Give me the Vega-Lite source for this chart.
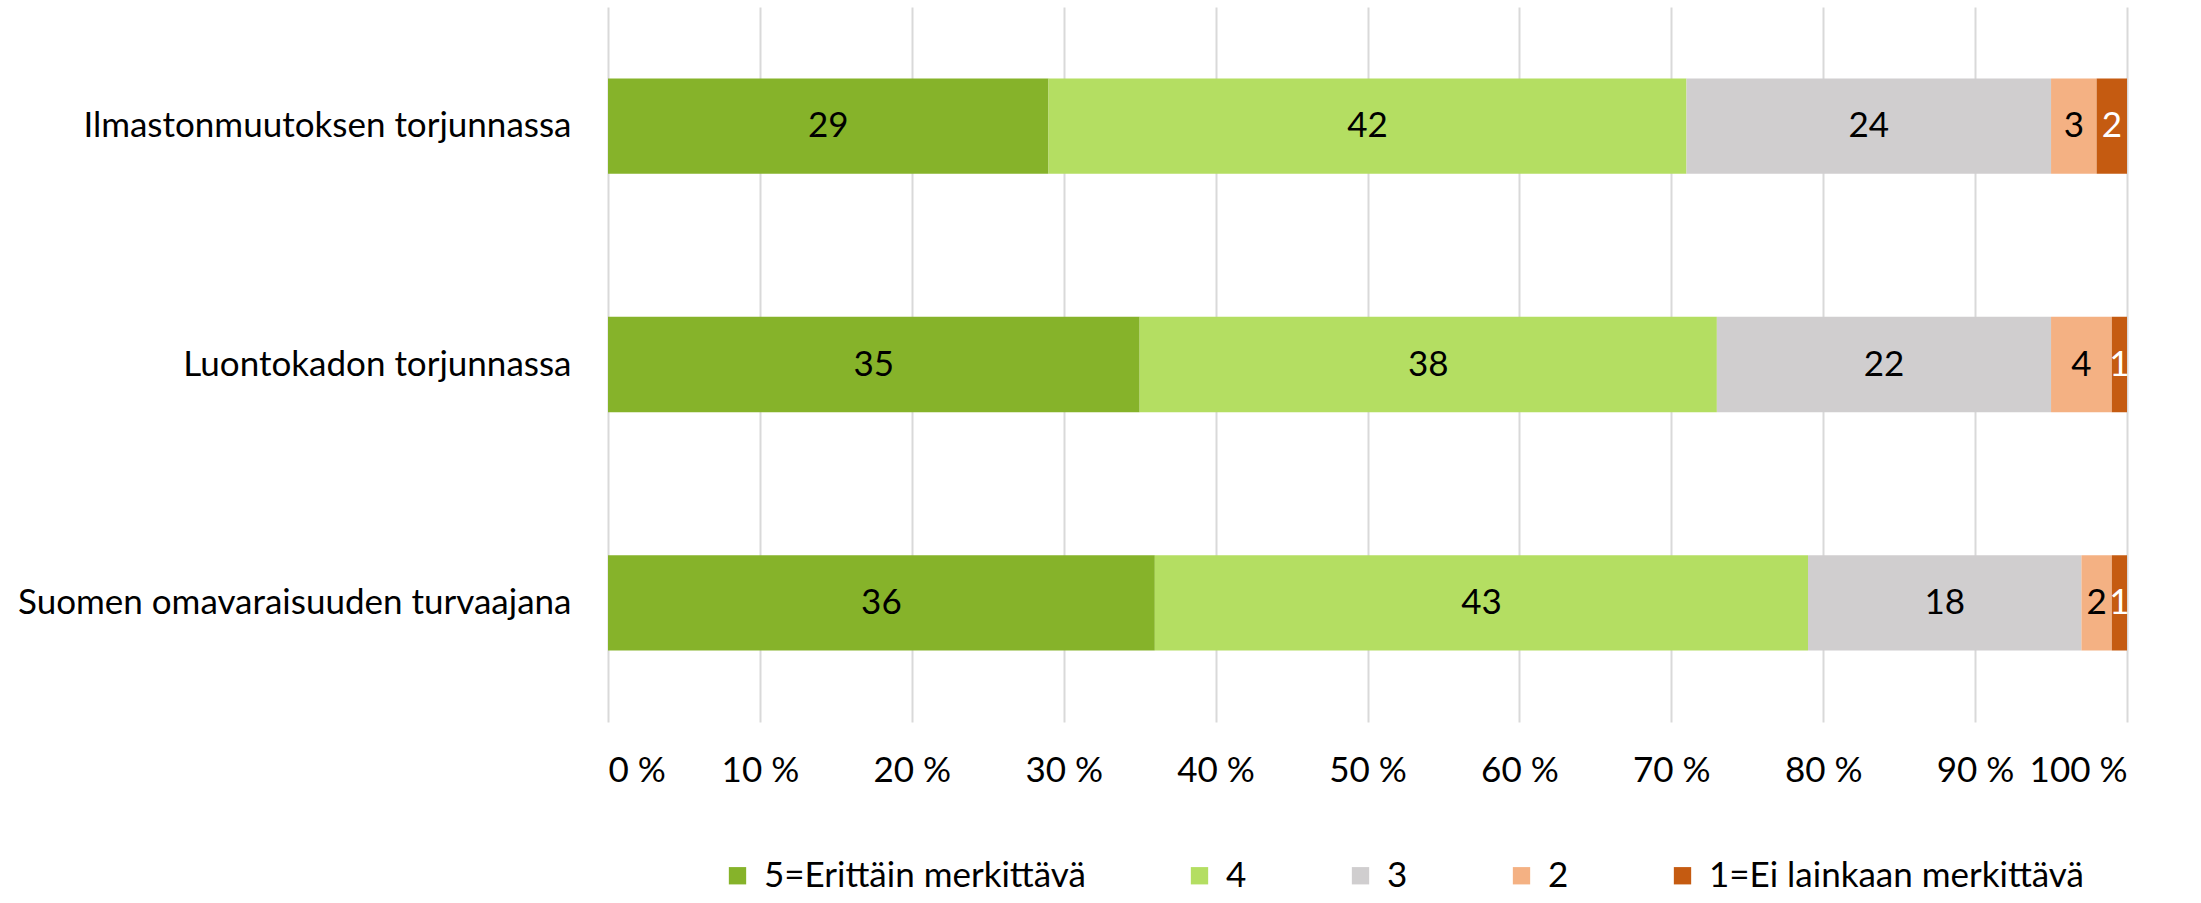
{
  "$schema": "https://vega.github.io/schema/vega-lite/v6.json",
  "width": 1519,
  "height": 715,
  "autosize": {"type": "none"},
  "padding": {"left": 608, "top": 7, "right": 74, "bottom": 181},
  "background": "white",
  "config": {
    "view": {"stroke": null},
    "font": "Lato",
    "axis": {"labelFont": "Lato", "labelFontSize": 35, "labelColor": "black", "labelLimit": 0},
    "legend": {"labelFont": "Lato", "labelFontSize": 35, "labelColor": "black", "labelLimit": 0}
  },
  "data": {
    "values": [
      {"q": "Ilmastonmuutoksen torjunnassa", "cat": "5=Erittäin merkittävä", "o": 1, "v": 29},
      {"q": "Ilmastonmuutoksen torjunnassa", "cat": "4", "o": 2, "v": 42},
      {"q": "Ilmastonmuutoksen torjunnassa", "cat": "3", "o": 3, "v": 24},
      {"q": "Ilmastonmuutoksen torjunnassa", "cat": "2", "o": 4, "v": 3},
      {"q": "Ilmastonmuutoksen torjunnassa", "cat": "1=Ei lainkaan merkittävä", "o": 5, "v": 2},
      {"q": "Luontokadon torjunnassa", "cat": "5=Erittäin merkittävä", "o": 1, "v": 35},
      {"q": "Luontokadon torjunnassa", "cat": "4", "o": 2, "v": 38},
      {"q": "Luontokadon torjunnassa", "cat": "3", "o": 3, "v": 22},
      {"q": "Luontokadon torjunnassa", "cat": "2", "o": 4, "v": 4},
      {"q": "Luontokadon torjunnassa", "cat": "1=Ei lainkaan merkittävä", "o": 5, "v": 1},
      {"q": "Suomen omavaraisuuden turvaajana", "cat": "5=Erittäin merkittävä", "o": 1, "v": 36},
      {"q": "Suomen omavaraisuuden turvaajana", "cat": "4", "o": 2, "v": 43},
      {"q": "Suomen omavaraisuuden turvaajana", "cat": "3", "o": 3, "v": 18},
      {"q": "Suomen omavaraisuuden turvaajana", "cat": "2", "o": 4, "v": 2},
      {"q": "Suomen omavaraisuuden turvaajana", "cat": "1=Ei lainkaan merkittävä", "o": 5, "v": 1}
    ]
  },
  "transform": [
    {"stack": "v", "groupby": ["q"], "sort": [{"field": "o", "order": "ascending"}], "as": ["v0", "v1"]},
    {"calculate": "(datum.v0 + datum.v1) / 2", "as": "mid"}
  ],
  "encoding": {
    "y": {
      "field": "q", "type": "nominal", "sort": null,
      "scale": {"paddingInner": 0.6, "paddingOuter": 0.3},
      "axis": {"title": null, "ticks": false, "domain": false, "grid": false, "labelPadding": 37}
    }
  },
  "layer": [
    {
      "mark": {"type": "bar"},
      "encoding": {
        "x": {
          "field": "v0", "type": "quantitative",
          "scale": {"domain": [0, 100], "nice": false},
          "axis": {
            "title": null, "values": [0,10,20,30,40,50,60,70,80,90,100],
            "labelExpr": "datum.value + ' %'", "domain": false, "ticks": false,
            "grid": true, "gridColor": "#D9D9D9", "gridWidth": 2, "labelPadding": 31
          }
        },
        "x2": {"field": "v1"},
        "color": {
          "field": "cat", "type": "nominal",
          "scale": {
            "domain": ["5=Erittäin merkittävä", "4", "3", "2", "1=Ei lainkaan merkittävä"],
            "range": ["#86B32A", "#B4DE62", "#D0CECF", "#F4B183", "#C55B11"]
          },
          "legend": {
            "title": null, "orient": "none", "direction": "horizontal",
            "legendX": 112, "legendY": 851, "symbolType": "square", "symbolSize": 300,
            "symbolStrokeWidth": 0, "columnPadding": 96, "labelOffset": 9
          }
        }
      }
    },
    {
      "mark": {"type": "text", "fontSize": 35, "font": "Lato"},
      "encoding": {
        "x": {"field": "mid", "type": "quantitative"},
        "text": {"field": "v", "type": "quantitative"},
        "color": {
          "condition": {"test": "datum.o === 5", "value": "white"},
          "value": "black"
        }
      }
    }
  ]
}
